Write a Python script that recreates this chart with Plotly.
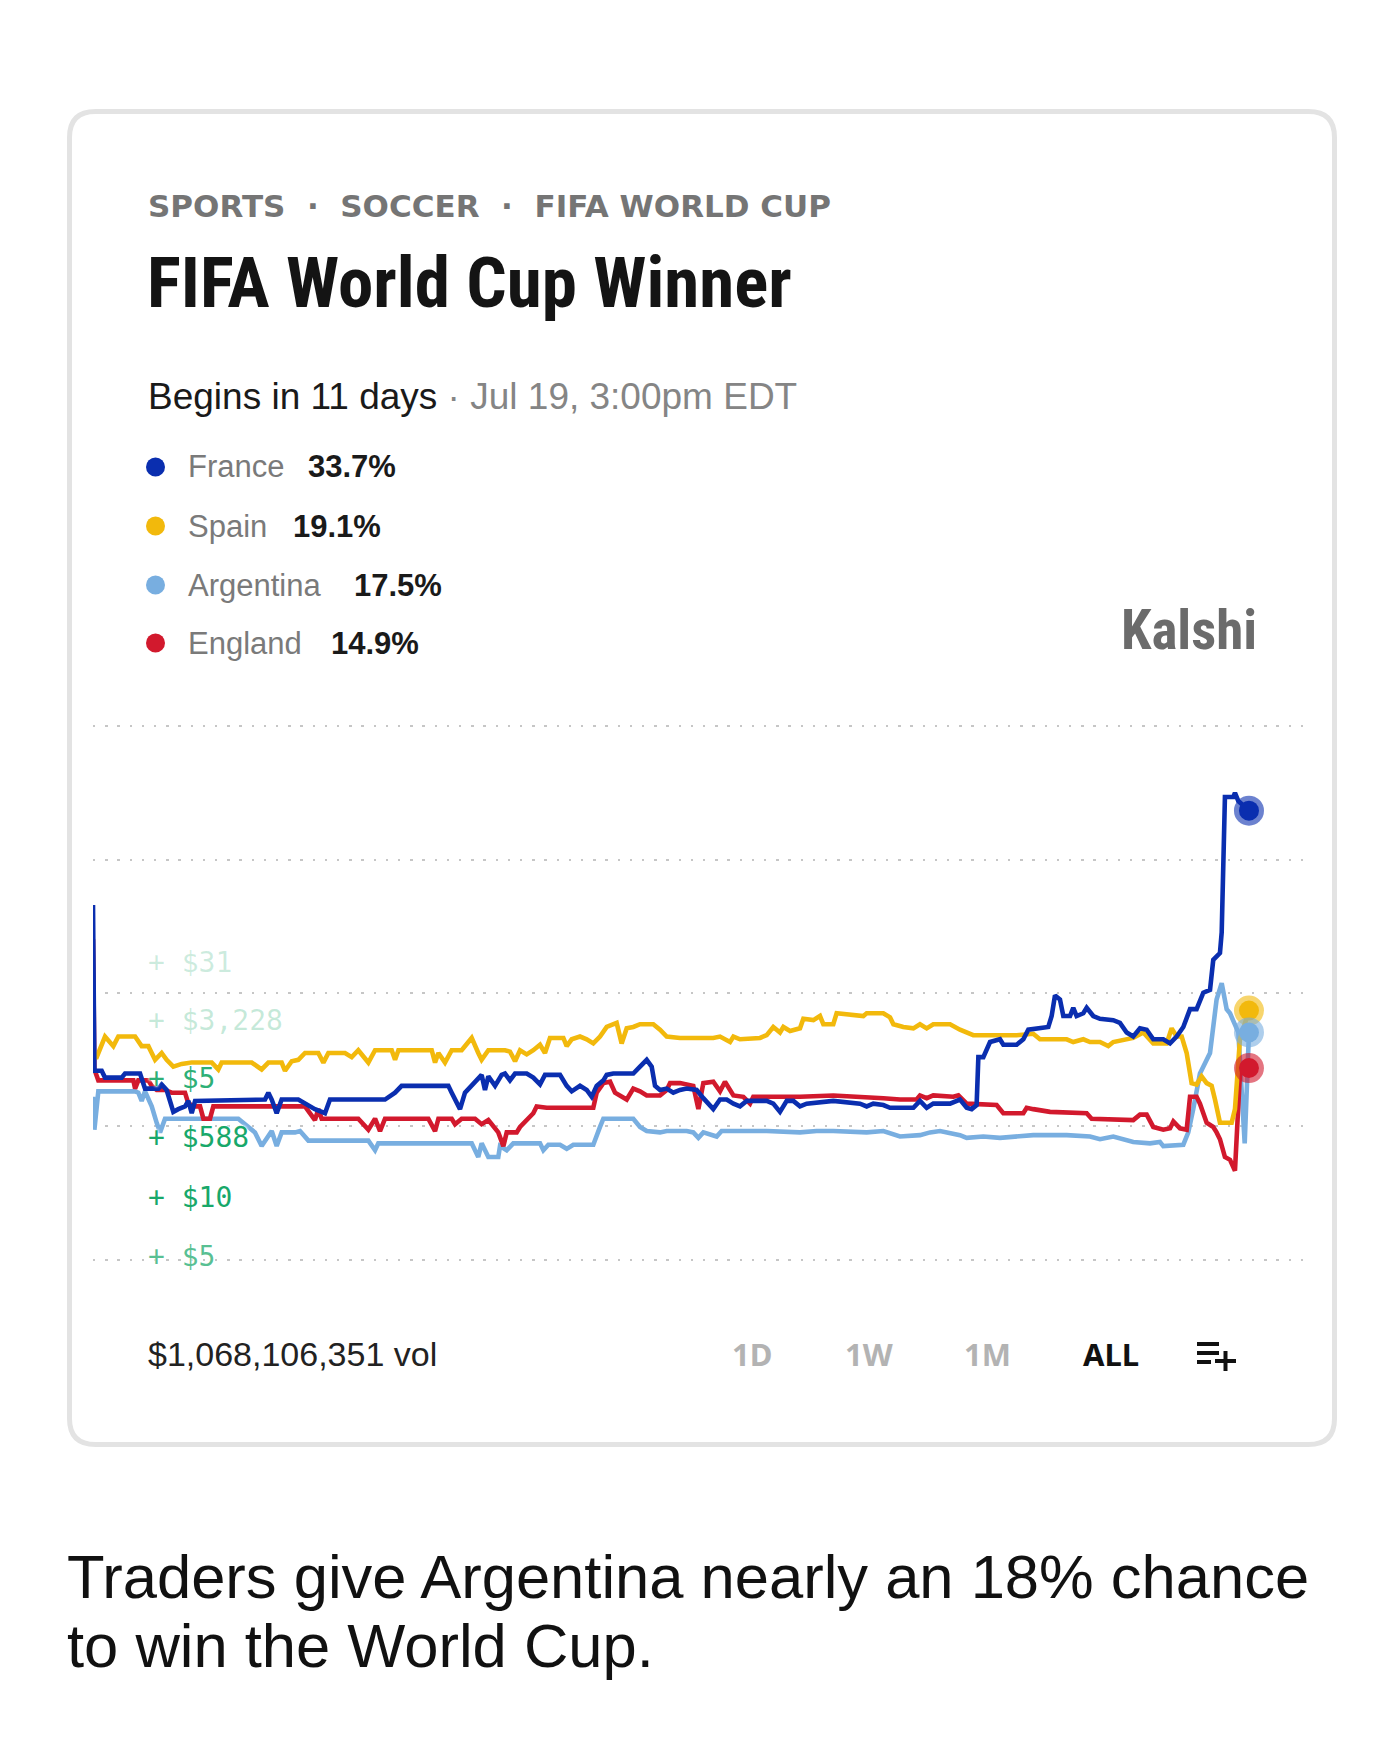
import plotly.graph_objects as go

W, H = 1400, 1750
PAGE_MARGIN = 8  # the html body adds an 8px margin around the figure

# timeline position (0 = first trade, 100 = now) and probability in %
france_t = [0, 0.12, 0.75, 1.04, 2.48, 2.77, 4.07, 4.27, 4.5, 5.65,
            5.94, 6.37, 6.66, 6.95, 7.38, 7.96, 8.25, 8.54, 8.83, 14.88,
            15.17, 15.46, 15.89, 16.32, 17.76, 18.34, 19.2, 20.07, 20.5, 25.26,
            26.13, 26.7, 30.74, 31.03, 31.75, 32.18, 32.76, 33.62, 33.91, 34.2,
            34.78, 35.35, 35.64, 36.07, 36.51, 37.52, 38.09, 38.67, 39.1, 40.4,
            40.98, 41.41, 42.13, 42.71, 43.14, 43.57, 44.15, 44.44, 45.01, 46.74,
            47.32, 47.9, 48.33, 48.62, 49.05, 49.63, 50.2, 50.78, 51.36, 52.22,
            52.8, 53.66, 54.24, 54.82, 55.4, 55.97, 56.55, 58.28, 58.85, 59.43,
            60.01, 60.58, 61.16, 61.74, 64.04, 66.35, 66.93, 67.5, 68.37, 68.95,
            70.97, 71.54, 72.12, 72.69, 74.14, 75.0, 75.58, 76.01, 76.44, 76.59,
            77.02, 77.6, 78.46, 78.75, 79.9, 80.48, 80.91, 82.21, 82.64, 82.93,
            83.22, 83.65, 83.94, 84.52, 84.8, 85.09, 85.67, 85.96, 86.53, 87.11,
            88.26, 88.84, 89.42, 89.99, 90.57, 91.15, 91.72, 92.59, 93.17, 93.74,
            94.32, 94.9, 95.47, 96.05, 96.63, 96.91, 97.49, 97.64, 97.92, 98.65,
            98.79, 99.08, 100]
france = [26.8, 14.7, 14.7, 14.2, 14.2, 14.5, 14.5, 14.0, 13.4, 13.4,
          13.7, 13.3, 12.6, 11.7, 11.9, 12.1, 12.5, 11.6, 12.5, 12.6,
          13.1, 12.6, 11.6, 12.6, 12.6, 12.3, 11.9, 11.6, 12.6, 12.6,
          13.1, 13.6, 13.6, 13.1, 11.9, 13.1, 13.6, 14.4, 13.3, 14.3,
          13.6, 14.4, 14.5, 14.0, 14.5, 14.5, 14.2, 13.7, 14.4, 14.4,
          13.6, 13.2, 13.6, 13.3, 12.8, 13.6, 14.0, 14.4, 14.5, 14.5,
          15.0, 15.5, 15.0, 13.6, 13.3, 13.4, 13.1, 13.3, 13.4, 13.3,
          12.7, 11.9, 12.6, 12.6, 12.3, 12.1, 12.5, 12.5, 12.3, 11.7,
          12.5, 12.5, 12.1, 12.3, 12.5, 12.3, 12.1, 12.3, 12.2, 12.0,
          12.0, 12.5, 12.0, 12.3, 12.3, 12.6, 12.0, 11.9, 12.2, 15.7,
          15.7, 16.8, 17.0, 16.6, 16.6, 17.0, 17.7, 17.8, 17.9, 18.7,
          20.2, 19.9, 18.7, 18.7, 19.3, 18.7, 18.9, 19.3, 18.7, 18.5,
          18.4, 18.2, 17.5, 17.2, 17.8, 17.7, 17.0, 17.0, 16.7, 17.2,
          17.9, 19.2, 19.2, 20.4, 20.6, 22.8, 23.3, 24.8, 34.7, 34.7,
          35.0, 34.4, 33.7]

spain_t = [0, 0.32, 1.04, 1.47, 1.76, 2.19, 3.64, 4.21, 4.79, 5.08,
           5.37, 5.94, 6.37, 6.95, 7.67, 8.54, 10.27, 10.84, 11.13, 13.73,
           14.59, 15.17, 16.32, 16.61, 17.19, 17.76, 18.34, 19.49, 19.93, 20.36,
           21.8, 22.38, 22.95, 23.82, 24.4, 25.84, 26.13, 26.42, 29.3, 29.59,
           29.88, 30.45, 31.03, 31.89, 32.76, 33.33, 33.62, 34.2, 35.64, 36.07,
           36.51, 36.94, 37.52, 38.09, 38.67, 39.1, 39.53, 40.69, 40.98, 41.41,
           42.13, 42.71, 43.28, 43.86, 44.44, 45.3, 45.73, 46.17, 46.74, 47.32,
           48.47, 49.05, 49.63, 50.78, 53.66, 54.24, 55.11, 55.4, 55.97, 57.7,
           58.28, 58.85, 59.43, 59.72, 60.3, 61.16, 61.45, 62.32, 62.89, 63.18,
           64.04, 64.33, 65.78, 66.64, 66.93, 68.37, 68.95, 69.24, 70.1, 70.97,
           71.54, 72.12, 72.69, 74.14, 75.0, 76.15, 77.02, 79.9, 81.34, 81.92,
           84.23, 84.8, 85.67, 86.25, 87.11, 87.83, 88.26, 89.99, 90.86, 91.72,
           92.88, 93.31, 93.74, 94.18, 94.61, 95.04, 95.47, 95.9, 96.34, 96.77,
           97.06, 97.49, 98.5, 98.79, 99.22, 100]
spain = [15.7, 15.7, 17.2, 16.8, 16.5, 17.2, 17.2, 16.5, 16.5, 16.0,
         15.5, 16.0, 15.5, 15.0, 15.2, 15.3, 15.3, 14.8, 15.3, 15.3,
         14.8, 15.3, 15.3, 14.7, 15.4, 15.5, 16.0, 16.0, 15.3, 16.0,
         16.0, 15.7, 16.2, 15.3, 16.2, 16.2, 15.5, 16.2, 16.2, 15.3,
         16.0, 15.3, 16.2, 16.2, 17.1, 16.0, 15.5, 16.2, 16.2, 16.1,
         15.4, 16.2, 15.9, 16.2, 16.6, 16.0, 17.1, 17.1, 16.5, 17.0,
         17.2, 17.0, 16.7, 17.2, 17.9, 18.2, 16.7, 17.8, 17.9, 18.1,
         18.1, 17.7, 17.2, 17.1, 17.1, 17.2, 16.8, 17.2, 17.0, 17.1,
         17.3, 17.9, 17.5, 17.9, 17.6, 17.8, 18.5, 18.4, 18.7, 18.1,
         18.1, 18.9, 18.8, 18.7, 18.9, 18.9, 18.6, 18.1, 17.9, 17.8,
         18.1, 17.8, 18.1, 18.1, 17.7, 17.3, 17.3, 17.3, 17.4, 17.0,
         17.0, 16.8, 17.0, 16.8, 16.8, 16.5, 16.8, 17.1, 17.5, 16.7,
         16.7, 17.8, 17.2, 17.2, 16.0, 13.8, 13.7, 14.3, 13.8, 13.6,
         12.6, 10.9, 10.9, 11.9, 17.0, 19.1]

argentina_t = [0, 0.12, 0.46, 3.64, 3.92, 4.21, 4.5, 5.08, 5.51, 5.8,
               6.23, 12.57, 14.01, 14.59, 15.46, 15.89, 16.32, 17.48, 17.91, 18.63,
               23.82, 24.4, 24.68, 32.76, 33.33, 33.62, 34.2, 35.06, 35.21, 35.79,
               36.36, 38.67, 38.96, 39.39, 40.4, 40.98, 41.55, 43.28, 43.86, 44.15,
               46.74, 47.32, 47.9, 49.05, 49.63, 51.36, 51.93, 52.37, 52.8, 53.95,
               54.38, 58.28, 61.16, 62.6, 64.04, 66.93, 68.37, 69.81, 71.54, 72.41,
               73.27, 75.0, 75.58, 77.02, 78.46, 81.34, 84.23, 86.25, 87.11, 88.26,
               89.99, 91.44, 92.3, 92.59, 94.32, 94.75, 95.18, 95.76, 96.63, 97.2,
               97.64, 98.07, 98.36, 98.65, 99.08, 99.63, 100]
argentina = [12.8, 10.4, 13.2, 13.2, 13.1, 12.5, 13.2, 12.1, 10.9, 10.2,
             11.2, 11.2, 10.2, 9.2, 10.3, 9.2, 10.2, 10.2, 10.3, 9.6,
             9.6, 8.9, 9.4, 9.4, 8.4, 9.4, 8.4, 8.4, 9.2, 8.9,
             9.4, 9.4, 8.9, 9.3, 9.3, 9.0, 9.3, 9.3, 10.6, 11.2,
             11.2, 10.6, 10.3, 10.2, 10.3, 10.3, 10.2, 9.8, 10.2, 9.9,
             10.3, 10.3, 10.2, 10.3, 10.3, 10.2, 10.3, 9.9, 10.0, 10.2,
             10.3, 10.0, 9.8, 9.9, 9.8, 10.0, 10.0, 9.9, 9.7, 9.9,
             9.5, 9.4, 9.5, 9.2, 9.3, 10.2, 11.9, 14.5, 16.0, 19.9,
             21.1, 19.2, 18.9, 18.4, 17.5, 9.4, 17.5]

england_t = [0, 0.12, 0.46, 3.49, 3.64, 3.92, 4.79, 5.08, 5.51, 6.23,
             6.8, 7.96, 8.25, 8.83, 9.26, 9.55, 10.12, 10.41, 18.34, 19.2,
             19.49, 19.78, 22.95, 23.82, 24.4, 24.83, 25.26, 29.01, 29.59, 29.88,
             31.03, 31.32, 31.89, 33.05, 33.62, 34.2, 35.06, 35.5, 35.79, 36.65,
             36.94, 37.52, 38.09, 38.38, 39.25, 43.28, 43.57, 44.15, 44.73, 45.16,
             46.17, 46.74, 47.32, 47.9, 49.05, 49.63, 49.92, 50.78, 51.36, 51.93,
             52.37, 52.8, 53.66, 54.24, 54.67, 55.4, 56.26, 56.84, 57.12, 61.16,
             64.04, 66.93, 68.37, 69.81, 71.25, 71.54, 72.12, 72.69, 74.42, 74.86,
             75.29, 75.58, 78.17, 78.75, 80.48, 80.77, 81.34, 82.79, 85.96, 86.39,
             89.99, 90.57, 91.15, 91.72, 92.59, 93.17, 93.46, 94.03, 94.61, 94.9,
             95.47, 95.76, 96.34, 96.91, 97.2, 97.49, 97.92, 98.36, 98.79, 99.22,
             100]
england = [24.3, 14.8, 14.0, 14.0, 13.4, 14.0, 14.0, 13.6, 13.3, 13.3,
           13.1, 13.1, 12.3, 12.1, 12.1, 11.2, 11.2, 12.1, 12.1, 11.1,
           11.9, 11.2, 11.2, 10.4, 11.2, 10.3, 11.2, 11.2, 10.3, 11.2,
           11.2, 10.8, 11.2, 11.2, 10.8, 11.1, 10.2, 9.2, 10.2, 10.2,
           10.6, 11.1, 11.6, 12.1, 12.0, 12.0, 13.1, 13.8, 13.9, 13.1,
           12.6, 13.4, 13.2, 12.9, 12.9, 13.3, 13.8, 13.8, 13.7, 13.6,
           11.9, 13.8, 13.9, 13.2, 13.9, 12.9, 12.8, 12.3, 12.8, 12.8,
           12.9, 12.8, 12.7, 12.6, 12.6, 12.9, 12.7, 12.9, 12.8, 12.9,
           12.5, 12.3, 12.2, 11.6, 11.6, 12.0, 11.9, 11.7, 11.6, 11.2,
           11.1, 11.5, 11.5, 10.6, 10.4, 10.5, 11.0, 10.5, 10.4, 12.8,
           12.8, 12.3, 10.9, 10.6, 10.2, 9.7, 8.4, 8.2, 7.4, 14.5,
           14.9]

names = ["France", "Spain", "Argentina", "England"]
chances = ["33.7%", "19.1%", "17.5%", "14.9%"]
colors = ["#0a2eaf", "#f2b90c", "#78aee0", "#d2192d"]

trade_labels = ["+ $31", "+ $3,228", "+ $5", "+ $588", "+ $10", "+ $5"]
trade_alpha = [0.22, 0.25, 0.92, 1.0, 1.0, 0.72]

ranges = ["1D", "1W", "1M", "ALL"]
volume = "$1,068,106,351 vol"


def px(x):
    return (x - PAGE_MARGIN) / W


def py(y):
    return 1 - (y - PAGE_MARGIN) / H


fig = go.Figure()

series = [(france_t, france), (spain_t, spain), (argentina_t, argentina), (england_t, england)]
for i in [2, 3, 1, 0]:
    t, v = series[i]
    fig.add_trace(go.Scatter(x=t, y=v, mode="lines", line=dict(color=colors[i], width=4.6),
                             hoverinfo="skip"))

# end dots (halo + solid)
for i in range(4):
    t, v = series[i]
    fig.add_trace(go.Scatter(x=[t[-1]], y=[v[-1]], mode="markers", cliponaxis=False,
                             marker=dict(size=30, color=colors[i], opacity=0.6, line=dict(width=0)),
                             hoverinfo="skip"))
    fig.add_trace(go.Scatter(x=[t[-1]], y=[v[-1]], mode="markers", cliponaxis=False,
                             marker=dict(size=20, color=colors[i], line=dict(width=0)),
                             hoverinfo="skip"))

ann = []


def text(s, x, y, size, color, family, weight="normal", xanchor="left", shadow=None):
    f = dict(size=size, color=color, family=family, weight=weight)
    if shadow:
        f["shadow"] = shadow
    ann.append(dict(text=s, x=px(x), y=py(y), xref="paper", yref="paper", showarrow=False,
                    xanchor=xanchor, yanchor="middle", font=f))


sans = "Liberation Sans, Arial, sans-serif"
narrow = "Liberation Sans Narrow, Arial Narrow, Roboto Condensed, sans-serif"

text("SPORTS  ·  SOCCER  ·  FIFA WORLD CUP", 146, 206, 31, "#757575", "DejaVu Sans", "bold")
text("FIFA World Cup Winner", 145, 282, 71, "#141414", narrow, "bold")
text("Begins in 11 days<span style='color:#858585'> · Jul 19, 3:00pm EDT</span>",
     146, 396, 37, "#1a1a1a", sans)

name_x = 186
value_x = [306, 291, 352, 329]
row_y = [467, 526, 585, 643]
shapes = []
for i in range(4):
    shapes.append(dict(type="circle", xref="paper", yref="paper",
                       x0=px(146), x1=px(165), y0=py(row_y[i] - 9.5), y1=py(row_y[i] + 9.5),
                       fillcolor=colors[i], line=dict(width=0)))
    text(names[i], name_x, row_y[i], 31, "#7a7a7a", sans)
    text(chances[i], value_x[i], row_y[i], 31, "#1a1a1a", sans, "bold")

text("Kalshi", 1259, 630, 55, "#6b6b6b", narrow, "bold", xanchor="right")

label_y = [962, 1020, 1078, 1137, 1197, 1256]
for s, a, y in zip(trade_labels, trade_alpha, label_y):
    text(s, 146, y, 28, "rgba(24,168,106,%.2f)" % a, "DejaVu Sans Mono",
         shadow="0px 0px 3px #fff, 0px 0px 3px #fff, 0px 0px 2px #fff")

text(volume, 146, 1354, 34, "#222222", sans)
range_x = [752, 869, 988, 1111]
for s, x in zip(ranges, range_x):
    text(s, x, 1354, 31, "#111111" if s == "ALL" else "#b3b3b3", "Noto Sans", "bold", xanchor="center")

# "add to list" icon
for (x0, y0, x1, y1) in [(1197, 1344, 1219, 1344), (1197, 1353, 1219, 1353), (1197, 1362, 1211, 1362),
                         (1215, 1361, 1236, 1361), (1225.5, 1351, 1225.5, 1371)]:
    shapes.append(dict(type="line", xref="paper", yref="paper", x0=px(x0), x1=px(x1),
                       y0=py(y0), y1=py(y1), line=dict(color="#111111", width=4)))

text("Traders give Argentina nearly an 18% chance", 65, 1576, 61.5, "#111111", sans)
text("to win the World Cup.", 65, 1645, 61.5, "#111111", sans)


# card outline with rounded corners
def rounded(x0, y0, x1, y1, r):
    p = [("M", x0 + r, y0), ("L", x1 - r, y0), ("Q", x1, y0, x1, y0 + r), ("L", x1, y1 - r),
         ("Q", x1, y1, x1 - r, y1), ("L", x0 + r, y1), ("Q", x0, y1, x0, y1 - r),
         ("L", x0, y0 + r), ("Q", x0, y0, x0 + r, y0)]
    out = ""
    for seg in p:
        pts = seg[1:]
        coords = " ".join("%.5f,%.5f" % (px(pts[k]), py(pts[k + 1])) for k in range(0, len(pts), 2))
        out += seg[0] + coords + " "
    return out + "Z"


shapes.append(dict(type="path", xref="paper", yref="paper", path=rounded(69.5, 111.5, 1334.5, 1444.5, 26),
                   line=dict(color="#e3e3e3", width=5), layer="below"))

fig.update_layout(
    width=W, height=H, margin=dict(l=0, r=0, t=0, b=0),
    paper_bgcolor="white", plot_bgcolor="rgba(0,0,0,0)", showlegend=False,
    xaxis=dict(domain=[px(93), px(1307)], range=[0, 105.02], visible=False, fixedrange=True),
    yaxis=dict(domain=[py(1290), py(700)], range=[-1.31, 41.78], showticklabels=False,
               showline=False, zeroline=False, ticks="", tick0=0.905, dtick=9.737,
               showgrid=True, gridcolor="#c6c6c6", gridwidth=2.4, griddash="2.4px,9.8px",
               fixedrange=True),
    annotations=ann, shapes=shapes,
)

fig.write_html("out.html")
